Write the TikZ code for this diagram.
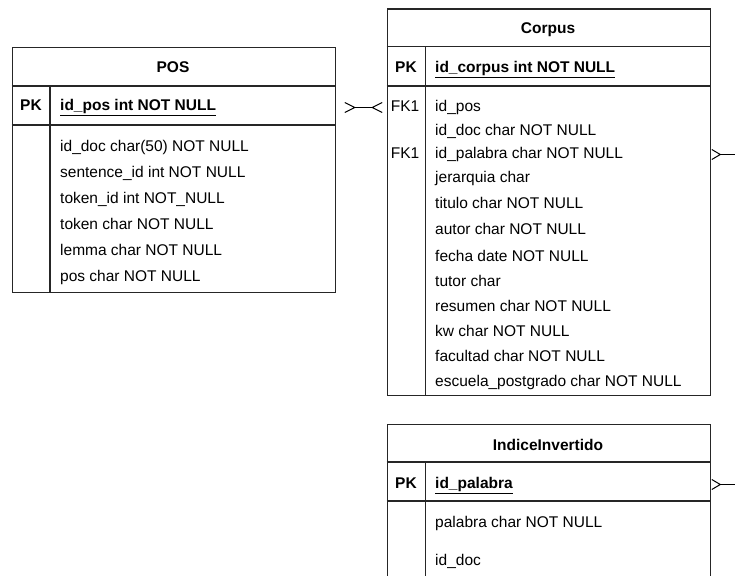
\documentclass[tikz,border=0pt]{standalone}
\usepackage{fontspec}
\setmainfont{Liberation Sans}
\usetikzlibrary{arrows.meta, positioning}

\tikzset{
  tbl/.style={draw=black!85, line width=1.3pt, anchor=north west, inner sep=0pt},
  sep/.style={draw=black!85, line width=1.3pt},
  fld/.style={anchor=west, inner sep=0pt, yshift=-1.5pt, text height=11pt, text depth=3.5pt, font=\fontsize{15.5}{18}\selectfont},
  keyfld/.style={fld, font=\fontsize{15.5}{18}\selectfont\bfseries},
  hdr/.style={inner sep=0pt, yshift=-1.5pt, text height=11pt, text depth=3.5pt, font=\fontsize{15.5}{18}\selectfont\bfseries},
  tag/.style={inner sep=0pt, yshift=-1.5pt, text height=11pt, text depth=3.5pt, font=\fontsize{15.5}{18}\selectfont},
  many/.style={line width=1pt, {Straight Barb[reversed, length=10pt, width=10pt]}-{Straight Barb[reversed, length=10pt, width=10pt]}},
  manyside/.style={line width=1pt, {Straight Barb[reversed, length=8.5pt, width=10pt]}-{Straight Barb[reversed, length=8.5pt, width=10pt]}},
}

\begin{document}
\begin{tikzpicture}[x=1pt, y=-1pt]
\useasboundingbox (0,0) rectangle (735,575);
\clip (0,0) rectangle (735,575);

% POS
\node[tbl, minimum width=323.5pt, minimum height=245.3pt] (pos) at (11.5,46.7) {};
\draw[sep] (11.5,86) -- (335,86) (11.5,125) -- (335,125) (50,86) -- (50,292);
\node[hdr] (pos-title) at (173,67) {POS};
\node[hdr] (pos-pk) at (31,105) {PK};
\node[keyfld] (pos-key) at (60,105) {\underline{id\_pos int NOT NULL}};
\foreach \t [count=\i] in {id\_doc char(50) NOT NULL, sentence\_id int NOT NULL, token\_id int NOT\_NULL, token char NOT NULL, lemma char NOT NULL, pos char NOT NULL}
  \node[fld] (pos-\i) at (60,120+26*\i) {\t};

% Corpus
\node[tbl, minimum width=323.3pt, minimum height=386.7pt] (corpus) at (386.7,8.3) {};
\draw[sep] (386.7,46.7) -- (710,46.7) (386.7,86) -- (710,86) (425.5,46.7) -- (425.5,395);
\node[hdr] (corpus-title) at (548,28) {Corpus};
\node[hdr] (corpus-pk) at (406,67) {PK};
\node[keyfld] (corpus-key) at (435,67) {\underline{id\_corpus int NOT NULL}};
\foreach \y/\t [count=\i] in {106/id\_pos, 130/id\_doc char NOT NULL, 153/id\_palabra char NOT NULL, 177/jerarquia char, 203/titulo char NOT NULL, 229/autor char NOT NULL, 256/fecha date NOT NULL, 281/tutor char, 306/resumen char NOT NULL, 331/kw char NOT NULL, 356/facultad char NOT NULL, 381/escuela\_postgrado char NOT NULL}
  \node[fld] (corpus-\i) at (435,\y) {\t};
\node[tag] (fk-pos) at (405,106) {FK1};
\node[tag] (fk-palabra) at (405,153) {FK1};

% IndiceInvertido
\node[tbl, minimum width=323.3pt, minimum height=180pt] (indice) at (386.7,424) {};
\draw[sep] (386.7,462) -- (710,462) (386.7,501) -- (710,501) (425.5,462) -- (425.5,604);
\node[hdr] (indice-title) at (548,445) {IndiceInvertido};
\node[hdr] (indice-pk) at (406,483) {PK};
\node[keyfld] (indice-key) at (435,483) {\underline{id\_palabra}};
\node[fld] (indice-1) at (435,522) {palabra char NOT NULL};
\node[fld] (indice-2) at (435,560) {id\_doc};

% relations
\draw[many, shorten <=8pt, shorten >=4pt] (pos.east |- corpus-1) -- (corpus.west |- corpus-1);
\coordinate (route) at (750,0);
\draw[manyside] (corpus.east |- corpus-3) -- (route |- corpus-3) -- (route |- indice-key) -- (indice.east |- indice-key);
\end{tikzpicture}
\end{document}
